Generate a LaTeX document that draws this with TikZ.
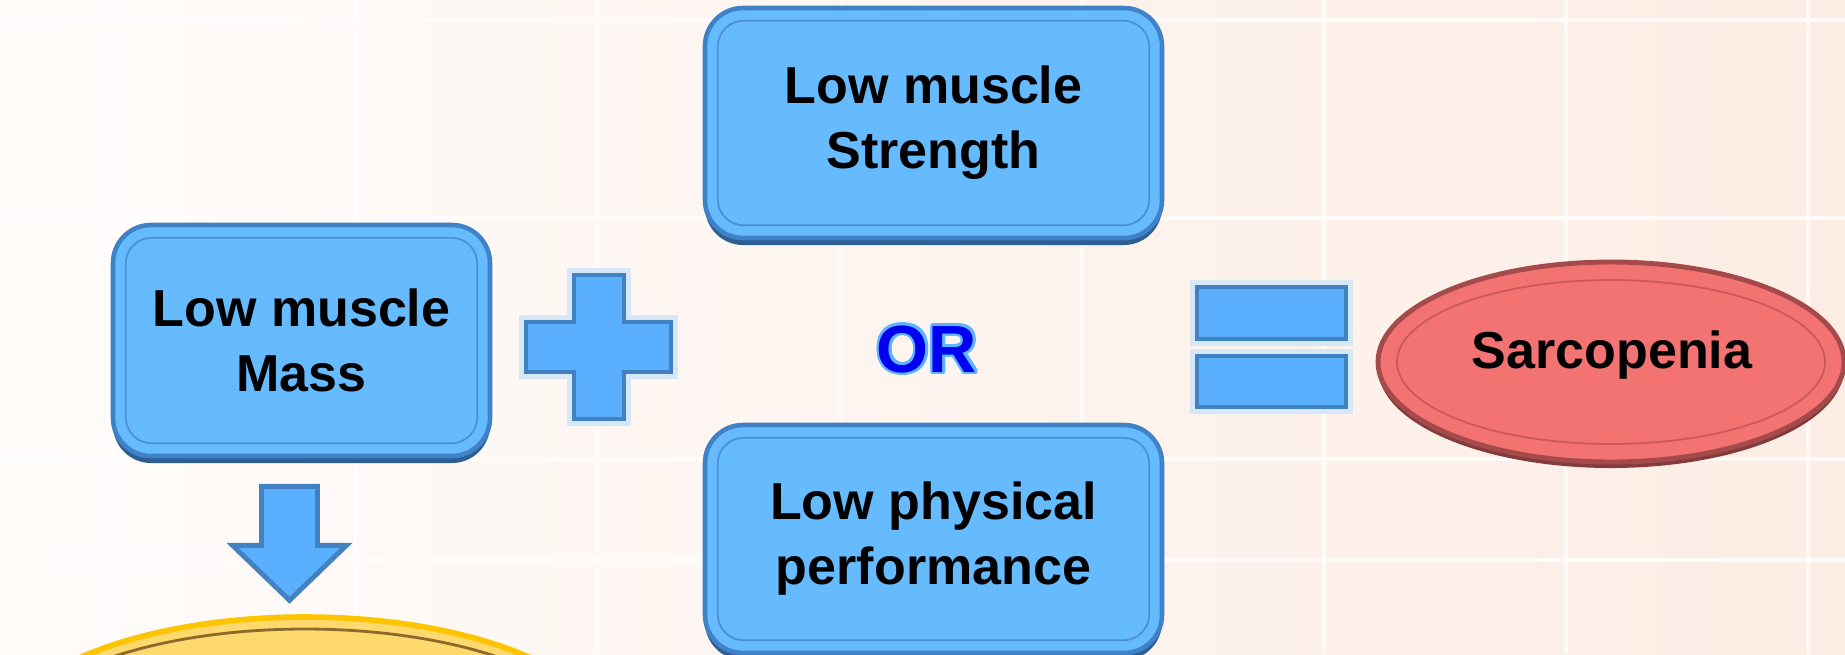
\documentclass[tikz,border=0pt]{standalone}
\usepackage{fontspec}
\setmainfont{Liberation Sans}
\usetikzlibrary{shapes.geometric,shadows}

\definecolor{bgleft}{HTML}{FFFCFA}
\definecolor{bgright}{HTML}{FCEDE4}
\definecolor{boxfill}{HTML}{66BBFF}
\definecolor{boxedge}{HTML}{3F82C8}
\definecolor{boxshade}{HTML}{2D5F95}
\definecolor{inneredge}{HTML}{4A90D4}
\definecolor{signfill}{HTML}{5AAFFF}
\definecolor{signedge}{HTML}{4281C2}
\definecolor{signglow}{HTML}{D6E8F8}
\definecolor{orblue}{HTML}{0000F0}
\definecolor{orglow}{HTML}{5DB4FF}
\definecolor{sarcfill}{HTML}{F37272}
\definecolor{sarcedge}{HTML}{A54A4A}
\definecolor{sarcinner}{HTML}{C95A5A}
\definecolor{goldfill}{HTML}{FFD86E}
\definecolor{goldedge}{HTML}{FFC400}
\definecolor{goldinner}{HTML}{8C6A2C}

\newcommand{\boxfont}{\fontsize{14.8}{18.5}\selectfont\bfseries}
\newcommand{\orfont}{\fontsize{19}{22}\selectfont\bfseries}

\begin{document}
\begin{tikzpicture}[
  box/.style={draw=boxedge, line width=1.3pt, fill=boxfill, rounded corners=0.38cm,
    minimum width=4.57cm, minimum height=2.3cm, align=center, font=\boxfont,
    drop shadow={shadow xshift=0pt, shadow yshift=-0.07cm, fill=boxshade, opacity=1}},
  innerframe/.style={draw=inneredge, line width=0.5pt, rounded corners=0.26cm},
  blockshape/.style={draw=signedge, line width=1.4pt, fill=signfill},
  sign/.style={blockshape, preaction={draw=signglow, line width=4pt}},
  gridline/.style={white, line width=0.9pt, opacity=0.75}
]
	\useasboundingbox (0,0) rectangle (18.45,-6.54);
	\clip (0,0) rectangle (18.45,-6.54);
	\shade[left color=bgleft, right color=bgright] (0,0) rectangle (18.45,-6.54);

	% Griglia chiara dello sfondo
	\foreach \x in {1.12,3.55,5.97,8.41,10.82,13.24,15.66,18.08}
		\draw[gridline] (\x,0) -- (\x,-6.54);
	\foreach \y in {-0.20,-2.18,-4.59,-5.60}
		\draw[gridline] (0,\y) -- (18.45,\y);

	% I tre riquadri
	\node[box, minimum width=3.77cm, minimum height=2.31cm] (mass) at (3.015,-3.405) {Low muscle\\Mass};
	\node[box] (strength) at (9.335,-1.23) {Low muscle\\Strength};
	\node[box, minimum height=2.28cm] (perf) at (9.335,-5.39) {Low physical\\performance};
	\foreach \b in {mass,strength,perf}
		\draw[innerframe] ([shift={(.15,-.15)}]\b.north west) rectangle ([shift={(-.15,.15)}]\b.south east);

	% Segno piu
	\coordinate (plus) at (5.99,-3.47);
	\draw[sign] (plus) ++(-.25,.72) -- ++(.5,0) -- ++(0,-.47) -- ++(.47,0) -- ++(0,-.5) -- ++(-.47,0)
		-- ++(0,-.47) -- ++(-.5,0) -- ++(0,.47) -- ++(-.48,0) -- ++(0,.5) -- ++(.48,0) -- cycle;

	% OR con alone azzurro
	\coordinate (orpos) at (9.27,-3.49);
	\foreach \a in {0,30,...,330}
		\node[text=orglow, font=\orfont] at ([shift={(\a:0.025)}]orpos) {OR};
	\node[text=orblue, font=\orfont] (orlabel) at (orpos) {OR};

	% Segno uguale
	\draw[sign] (11.97,-2.87) rectangle (13.46,-3.39);
	\draw[sign] (11.97,-3.56) rectangle (13.46,-4.07);

	% Ellisse rossa
	\node[ellipse, draw=sarcedge, line width=1.4pt, fill=sarcfill, minimum width=4.66cm,
		minimum height=2.0cm, font=\boxfont,
		drop shadow={shadow xshift=0pt, shadow yshift=-0.06cm, fill=sarcedge!80!black, opacity=1}]
		(sarc) at (16.11,-3.62) {};
	\draw[sarcinner, line width=0.5pt] (sarc.center) ellipse [x radius=2.14, y radius=0.82];
	\node[font=\boxfont] (sarctext) at (16.12,-3.55) {Sarcopenia};

	% Ellisse gialla in basso
	\node[ellipse, draw=goldedge, line width=1.6pt, fill=goldfill, minimum width=6.2cm,
		minimum height=2.6cm] (gold) at (3.05,-7.47) {};
	\draw[goldinner, line width=0.8pt] (gold.center) ellipse [x radius=2.98, y radius=1.18];

	% Freccia verso il basso
	\coordinate (shafttop) at ([xshift=-.12cm, yshift=-.28cm]mass.south);
	\draw[blockshape] (shafttop) ++(-.28,0) -- ++(.56,0) -- ++(0,-.59) -- ++(.29,0)
		-- ++(-.57,-.55) -- ++(-.57,.55) -- ++(.29,0) -- cycle;
\end{tikzpicture}
\end{document}
